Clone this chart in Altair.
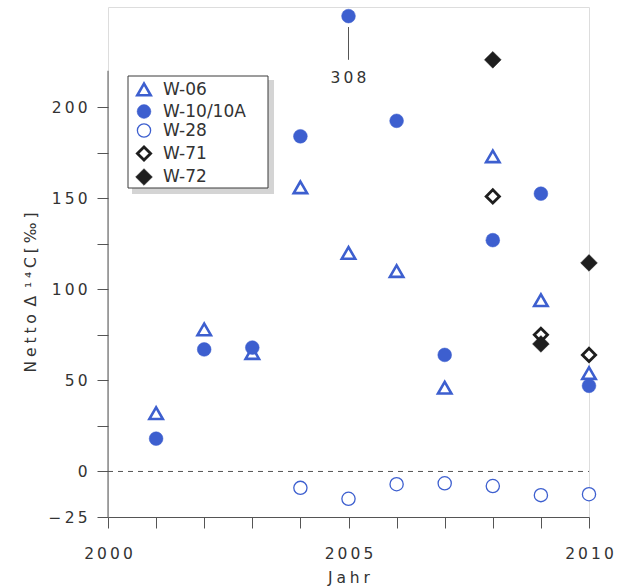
import altair as alt
import pandas as pd

# ---- data ----
series = ["W-06", "W-10/10A", "W-28", "W-71", "W-72"]

w06_years = [2001, 2002, 2003, 2004, 2005, 2006, 2007, 2008, 2009, 2010]
w06 = [32, 78, 65, 156, 120, 110, 46, 173, 94, 54]

w10_years = [2001, 2002, 2003, 2004, 2005, 2006, 2007, 2008, 2009, 2010]
w10 = [18, 67, 68, 184, 308, 192.5, 64, 127, 152.5, 47]

w28_years = [2004, 2005, 2006, 2007, 2008, 2009, 2010]
w28 = [-9, -15, -7, -6.5, -8, -13, -12.5]

w71_years = [2008, 2009, 2010]
w71 = [151, 75, 64]

w72_years = [2008, 2009, 2010]
w72 = [226, 70, 114.5]

axis_break = 250      # values above this are drawn at the top, with their value written below
y_axis_top = 220
x_ticks = list(range(2000, 2011))
x_labels = [2000, 2005, 2010]
y_ticks = [-25, 0, 25, 50, 75, 100, 125, 150, 175, 200]
y_labels = [-25, 0, 50, 100, 150, 200]

BLUE = "#3d5fcf"
BLACK = "#1e1e1e"
GREY = "#555555"
TXT = "#333333"
FONT = "DejaVu Sans"
TS = "\u2009"
WS = "\u2005"
EN = "\u2002"

rows = []
for name, yrs, vals in [("W-06", w06_years, w06), ("W-10/10A", w10_years, w10),
                        ("W-28", w28_years, w28), ("W-71", w71_years, w71),
                        ("W-72", w72_years, w72)]:
    for yr, v in zip(yrs, vals):
        rows.append({"series": name, "year": yr, "raw": v,
                     "value": min(v, axis_break)})
df = pd.DataFrame(rows)

over = df[df["raw"] > axis_break].copy()
over["value"] = axis_break - 6
over["value2"] = axis_break - 24
over["tvalue"] = axis_break - 34
over["label"] = over["raw"].apply(lambda v: TS.join(str(int(round(v)))))

xscale = alt.Scale(domain=[2000, 2010], nice=False, zero=False)
yscale = alt.Scale(domain=[-25, 255], nice=False, zero=False)

x_axis = alt.Axis(values=x_ticks, format="d", title=WS.join("Jahr"),
                  labelExpr=f"indexof({x_labels}, datum.value) >= 0 ? join(split(datum.label, ''), '{TS}') : ''",
                  tickSize=11, labelPadding=25, labelBaseline="middle", labelFlush=False,
                  labelFontSize=15.5, titleFontSize=15.5, titleFontWeight="normal",
                  titleX=240.5, titleY=60, titleBaseline="middle",
                  domainColor=GREY, tickColor=GREY, labelColor=TXT, titleColor=TXT,
                  grid=False, labelFont=FONT, titleFont=FONT)

ytitle = WS.join("Netto") + EN + "Δ" + EN + "¹" + WS + "⁴" + WS + "C" + WS + "[" + WS + "‰" + WS + "]"
y_axis = alt.Axis(values=y_ticks, format="d", title=ytitle,
                  labelExpr=f"indexof({y_labels}, datum.value) >= 0 ? join(split(datum.label, ''), '{TS}') : ''",
                  tickSize=11, labelPadding=10, domain=False, labelFlush=False,
                  labelFontSize=15.5, titleFontSize=15.5, titleFontWeight="normal",
                  titleAngle=270, titleX=-78, titleY=285, titleAlign="center",
                  titleBaseline="middle",
                  tickColor=GREY, labelColor=TXT, titleColor=TXT,
                  grid=False, labelFont=FONT, titleFont=FONT)

X = alt.X("year:Q", scale=xscale, axis=x_axis)
Y = alt.Y("value:Q", scale=yscale, axis=y_axis)

# legend box (drawn beneath the legend) with its shadow
shadow = alt.Chart(pd.DataFrame({"a": [0]})).mark_rect(color="#cfcfcf", opacity=0.9).encode(
    x=alt.value(24), x2=alt.value(166), y=alt.value(73), y2=alt.value(187))
box = alt.Chart(pd.DataFrame({"a": [0]})).mark_rect(fill="white", stroke="#3a3a3a", strokeWidth=1).encode(
    x=alt.value(20), x2=alt.value(160), y=alt.value(69), y2=alt.value(181))

zero = alt.Chart(pd.DataFrame({"year": [2000], "year2": [2010], "value": [0]})).mark_rule(
    color=GREY, strokeDash=[5, 5], strokeWidth=1).encode(x=X, x2="year2:Q", y=Y)

yline = alt.Chart(pd.DataFrame({"year": [2000], "value": [-25], "value2": [y_axis_top]})).mark_rule(
    color=GREY, strokeWidth=1).encode(x=X, y=Y, y2="value2:Q")

leg = alt.Legend(title=None, orient="none", legendX=20, legendY=70,
                 padding=4, symbolOffset=3, labelOffset=10, rowPadding=1,
                 labelFontSize=17, labelColor=TXT, labelFont=FONT,
                 strokeColor=None, fillColor=None)

pts = alt.Chart(df).mark_point(opacity=1, filled=False).encode(
    x=X, y=Y,
    shape=alt.Shape("series:N", scale=alt.Scale(domain=series,
                    range=["triangle-up", "circle", "circle", "diamond", "diamond"]), legend=leg),
    fill=alt.Fill("series:N", scale=alt.Scale(domain=series,
                  range=["white", BLUE, "white", "white", BLACK]), legend=leg),
    stroke=alt.Stroke("series:N", scale=alt.Scale(domain=series,
                      range=[BLUE, BLUE, BLUE, BLACK, BLACK]), legend=leg),
    strokeWidth=alt.StrokeWidth("series:N", scale=alt.Scale(type="ordinal", domain=series,
                                range=[2.6, 0.5, 1.3, 2.8, 0.5]), legend=leg),
    size=alt.Size("series:N", scale=alt.Scale(type="ordinal", domain=series,
                  range=[180, 190, 175, 175, 280]), legend=leg),
    order=alt.Order("series:N"),
)

ann_rule = alt.Chart(over).mark_rule(color=GREY, strokeWidth=1).encode(
    x=X, y=Y, y2="value2:Q")
ann_text = alt.Chart(over).mark_text(font=FONT, fontSize=15.5, color=TXT, baseline="middle").encode(
    x=X, y=alt.Y("tvalue:Q", scale=yscale), text="label:N")

chart = alt.layer(shadow, box, zero, yline, pts, ann_rule, ann_text).properties(
    width=481, height=510,
    autosize=alt.AutoSizeParams(type="none"),
    padding={"left": 108, "top": 7, "right": 31, "bottom": 71},
).configure_view(stroke=None).configure(font=FONT)

chart.save("out.html", embed_options={"renderer": "svg", "actions": False})
